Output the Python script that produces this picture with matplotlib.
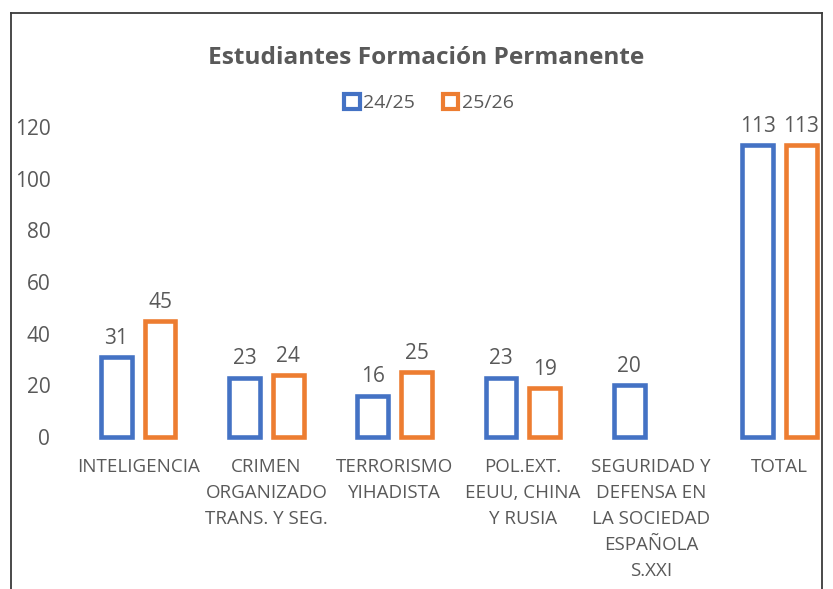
import matplotlib.pyplot as plt
import numpy as np
from matplotlib.patches import Patch
from matplotlib.lines import Line2D

categories = ["INTELIGENCIA", "CRIMEN\nORGANIZADO\nTRANS. Y SEG.", "TERRORISMO\nYIHADISTA",
              "POL.EXT.\nEEUU, CHINA\nY RUSIA", "SEGURIDAD Y\nDEFENSA EN\nLA SOCIEDAD\nESPAÑOLA\nS.XXI",
              "TOTAL"]
curso_2425 = [31, 23, 16, 23, 20, 113]
curso_2526 = [45, 24, 25, 19, np.nan, 113]
series_names = ["24/25", "25/26"]

blue = "#4472C4"
orange = "#ED7D31"
gray = "#595959"

plt.rcParams["font.family"] = ["Open Sans", "DejaVu Sans"]

fig = plt.figure(figsize=(8.33, 5.89), dpi=100)
ax = fig.add_axes([0.0888, 0.258, 0.924, 0.526])

x = np.arange(len(categories))
w = 0.24
off = 0.171
lw = 3.3

for vals, dx, col in [(curso_2425, -off, blue), (curso_2526, off, orange)]:
    for xi, v in zip(x, vals):
        if np.isnan(v):
            continue
        ax.bar(xi + dx, v, width=w, facecolor="white", edgecolor=col, linewidth=lw, clip_on=False)
        ax.annotate(str(int(v)), (xi + dx, v), xytext=(0, 6), textcoords="offset points",
                    ha="center", va="bottom", fontsize=15, color=gray)

ax.set_xlim(-0.5, len(categories) - 0.5)
ax.set_ylim(0, 120)
ax.set_yticks(range(0, 121, 20))
ax.set_xticks(x)
ax.set_xticklabels(categories, fontsize=13.5, color=gray, linespacing=1.58)
ax.tick_params(axis="y", length=0, labelsize=15, labelcolor=gray, pad=17)
ax.tick_params(axis="x", length=0, pad=15)
for s in ax.spines.values():
    s.set_visible(False)

fig.text(0.512, 0.901, "Estudiantes Formación Permanente", ha="center", va="center",
         fontsize=17.6, fontweight="bold", color=gray)

handles = [Patch(facecolor="white", edgecolor=blue, linewidth=3),
           Patch(facecolor="white", edgecolor=orange, linewidth=3)]
fig.legend(handles, series_names, loc="center", bbox_to_anchor=(0.515, 0.825), ncol=2,
           frameon=False, fontsize=14, labelcolor=gray, handlelength=0.8, handleheight=0.8,
           handletextpad=0.2, columnspacing=1.4)

# marco del gráfico
border = "#3a3a3a"
fig.add_artist(Line2D([11/833, 11/833], [0, 1 - 13/589], color=border, lw=1.3))
fig.add_artist(Line2D([11/833, 822/833], [1 - 13/589, 1 - 13/589], color=border, lw=1.3))
fig.add_artist(Line2D([822/833, 822/833], [0, 1 - 13/589], color=border, lw=1.3))

fig.savefig("out.png", dpi=100, facecolor="white")
